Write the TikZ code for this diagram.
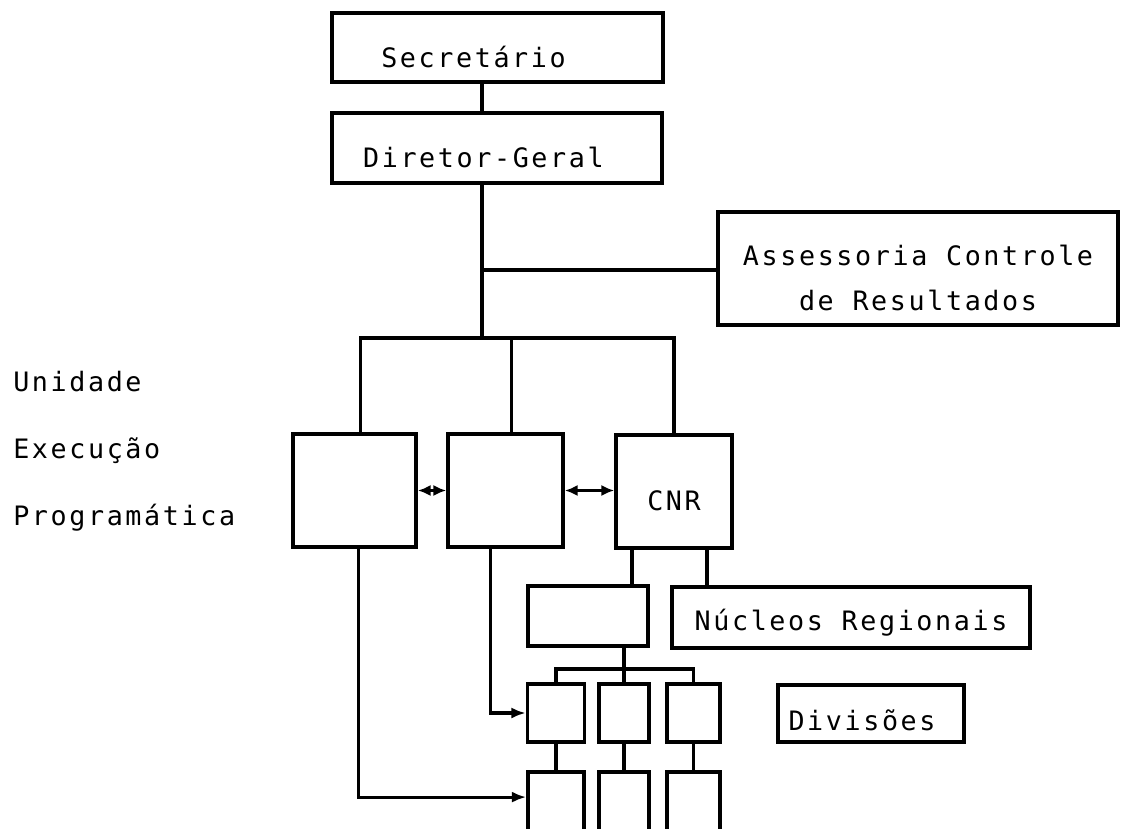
\documentclass[tikz,border=0pt]{standalone}
\usepackage{fontspec}
\usepackage{tikz}
\usetikzlibrary{arrows.meta, calc}
\newfontfamily\plotfont[LetterSpace=9.8]{DejaVu Sans Mono}
\tikzset{
  orgbox/.style={draw, line width=2.6pt, inner sep=0pt, align=center,
      font=\plotfont\fontsize{19}{32}\selectfont},
  lowtext/.style={text height=#1, text depth=0pt},
  lowtext/.default=0.95cm,
  cell/.style={draw, line width=2.6pt, inner sep=0pt, minimum width=#1, minimum height=1.45cm},
  link/.style={line width=2.2pt},
  twoway/.style={line width=2.2pt, {Latex[length=3.2mm,width=2.8mm]}-{Latex[length=3.2mm,width=2.8mm]}},
  toward/.style={line width=2.2pt, -{Latex[length=3.6mm,width=2.8mm]}},
}

\begin{document}
\begin{tikzpicture}[x=0.025cm, y=-0.025cm]
  \useasboundingbox (0,0) rectangle (1122,828);
  \clip (0,0) rectangle (1122,828);
  % direction
  \node[orgbox, lowtext=0.975cm, minimum width=8.275cm, minimum height=1.725cm] (sec) at (497.5,47.5) {Secretário\hspace*{1.2cm}};
  \node[orgbox, lowtext, minimum width=8.25cm, minimum height=1.75cm] (dg) at (497,148) {Diretor-Geral\hspace*{0.68cm}};
  \node[orgbox, lowtext=2.075cm, minimum width=10cm, minimum height=2.825cm] (acr) at (918,268.5) {Assessoria Controle\\de Resultados};
  \coordinate (jA) at (482,270);
  \coordinate (jB) at (482,338);
  \draw[link] (sec.south -| jA) -- (dg.north -| jA);
  \draw[link] (dg.south -| jA) -- (jB);
  \draw[link] (jA) -- (jA -| acr.west);
  % program execution units
  \node[anchor=base west, inner sep=0pt, align=left, font=\plotfont\fontsize{19}{47.3}\selectfont] (unit) at (13,525) {Unidade\\Execução\\Programática};
  \node[orgbox, minimum width=3.075cm, minimum height=2.825cm] (box1) at (354.5,490.5) {};
  \node[orgbox, minimum width=2.875cm, minimum height=2.825cm] (box2) at (505.5,490.5) {};
  \node[orgbox, lowtext=0.925cm, minimum width=2.9cm, minimum height=2.825cm] (cnr) at (674,491.5) {CNR};
  \draw[link] ([xshift=0.14cm]box1.north) |- (cnr.north |- jB) -- (cnr.north);
  \draw[link] ([xshift=0.15cm]box2.north) -- ([xshift=0.15cm]box2.north |- jB);
  \draw[twoway] (box1.east) -- (box2.west);
  \draw[twoway] (box2.east) -- (box2.east -| cnr.west);
  % regional level
  \node[orgbox, minimum width=3cm, minimum height=1.5cm] (mid) at (588,616) {};
  \node[orgbox, lowtext=0.625cm, minimum width=8.95cm, minimum height=1.525cm] (nuc) at (851,617.5) {Núcleos Regionais};
  \draw[link] ([xshift=-1.05cm]cnr.south) -- ([xshift=-1.05cm]cnr.south |- mid.north);
  \draw[link] ([xshift=0.825cm]cnr.south) -- ([xshift=0.825cm]cnr.south |- nuc.north);
  % divisions
  \node[cell=1.425cm] (ra1) at (556,713) {};
  \node[cell=1.25cm] (rb1) at (624,713) {};
  \node[cell=1.325cm] (rc1) at (693.5,713) {};
  \node[cell=1.4cm, minimum height=1.575cm] (ra2) at (556,803.5) {};
  \node[cell=1.25cm, minimum height=1.575cm] (rb2) at (624,803.5) {};
  \node[cell=1.325cm, minimum height=1.575cm] (rc2) at (693.5,803.5) {};
  \node[orgbox, lowtext=0.825cm, minimum width=4.65cm, minimum height=1.425cm] (div) at (871,713.5) {Divisões\hspace*{0.45cm}};
  \coordinate (jC) at (624,669);
  \draw[link] (rb1.north |- mid.south) -- (rb1.north);
  \draw[link] (ra1.north) |- (jC) -| (rc1.north);
  \foreach \c in {a,b,c}
    \draw[link] (r\c1) -- (r\c2);
  \draw[toward] ([xshift=0.11cm]box1.south) |- ([yshift=0.16cm]ra2.west);
  \draw[toward] ([xshift=-0.38cm]box2.south) |- (ra1.west);
\end{tikzpicture}
\end{document}
